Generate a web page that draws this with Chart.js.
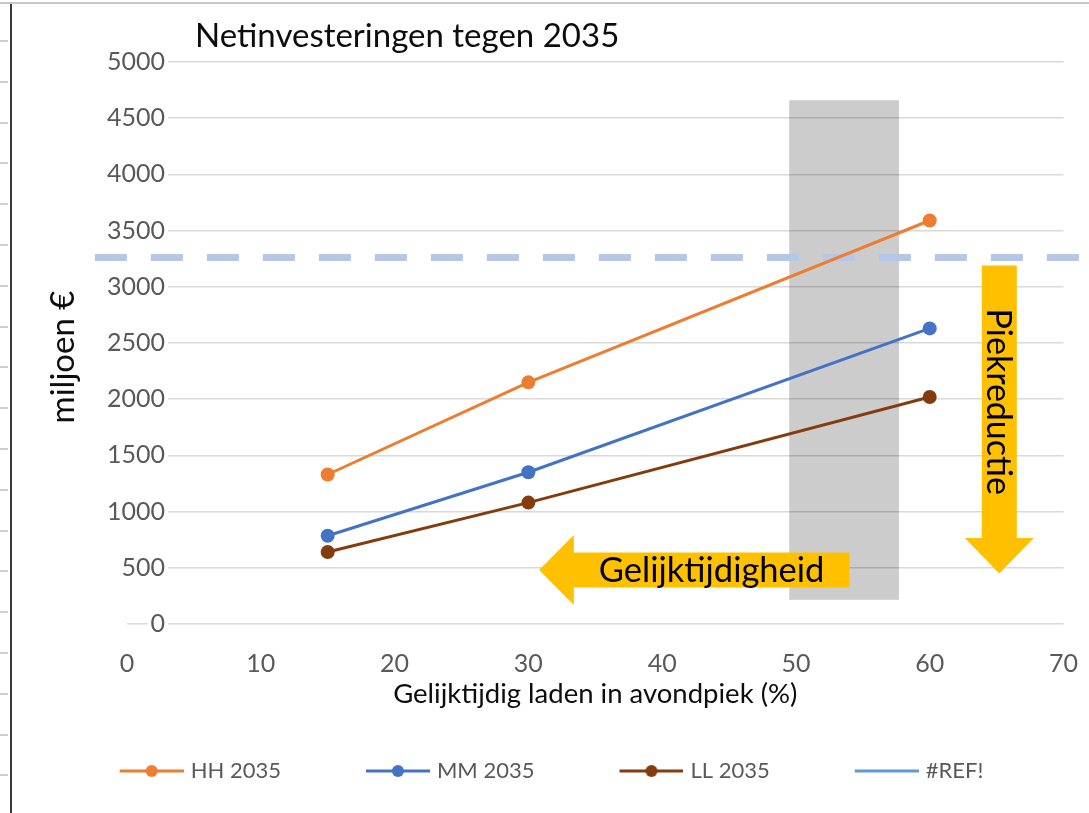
<!DOCTYPE html>
<html>
<head>
<meta charset="utf-8">
<title>Netinvesteringen tegen 2035</title>
<script src="https://cdn.jsdelivr.net/npm/chart.js@4.4.0/dist/chart.umd.min.js"></script>
<style>
    html, body { margin: 0; padding: 0; background: #fff; }
    #wrap { position: relative; width: 1089px; height: 813px; }
</style>
</head>
<body>
<div id="wrap"><canvas id="netChart" width="1089" height="813"></canvas></div>
<script>
// data
var xValues = [15, 30, 60];
var hhValues = [1330, 2150, 3590];
var mmValues = [785, 1350, 2630];
var llValues = [640, 1080, 2020];
var seriesNames = ['HH 2035', 'MM 2035', 'LL 2035', '#REF!'];
var seriesColors = ['#ED7D31', '#4472C4', '#843C0C', '#5B9BD5'];
var xTicks = [0, 10, 20, 30, 40, 50, 60, 70];
var yTicks = [0, 500, 1000, 1500, 2000, 2500, 3000, 3500, 4000, 4500, 5000];

var chartTitle = 'Netinvesteringen tegen 2035';
var xTitle = 'Gelijktijdig laden in avondpiek (%)';
var yTitle = 'miljoen €';

// overlay shapes in data units
var refLevel = 3260;              // dashed line
var refFrom = -2.4, refTo = 71.2;
var band = { x0: 49.5, x1: 57.7, y0: 215, y1: 4660 };
var leftArrow = { tip: 30.8, headBase: 33.4, end: 54.0, y: 480, text: 'Gelijktijdigheid' };
var downArrow = { x: 65.2, top: 3190, headBase: 765, tip: 450, text: 'Piekreductie' };

var FONT = 'Lato';

function measure(txt, size) {
    var c = document.createElement('canvas').getContext('2d');
    c.font = size + 'px ' + FONT;
    return c.measureText(txt).width;
}

var tickSize = 25;
var widestY = measure('5000', tickSize);

// legend symbol: line with optional marker, drawn with a left margin
// so the text sits close to the line end like in Excel
var legendBox = 68;
function legendIcon(color, marker) {
    var c = document.createElement('canvas');
    c.width = legendBox + 8;
    c.height = 16;
    var g = c.getContext('2d');
    var x0 = legendBox - 56;
    g.strokeStyle = color;
    g.lineWidth = 3;
    g.beginPath();
    g.moveTo(x0, 8);
    g.lineTo(x0 + 64, 8);
    g.stroke();
    if (marker) {
        g.fillStyle = color;
        g.beginPath();
        g.arc(x0 + 32, 8, 6, 0, Math.PI * 2);
        g.fill();
    }
    return c;
}

var legendIcons = [
    legendIcon(seriesColors[0], true),
    legendIcon(seriesColors[1], true),
    legendIcon(seriesColors[2], true),
    legendIcon(seriesColors[3], false)
];

function series(values) {
    return values.map(function(v, i) { return { x: xValues[i], y: v }; });
}

function makeDataset(i, values) {
    return {
        label: seriesNames[i],
        data: values ? series(values) : [],
        borderColor: seriesColors[i],
        backgroundColor: seriesColors[i],
        borderWidth: 3,
        pointRadius: values ? 7 : 0,
        pointBorderWidth: 0,
        pointHoverRadius: 7,
        tension: 0,
        fill: false
    };
}

var overlays = {
    id: 'overlays',
    beforeDraw: function(chart) {
        var ctx = chart.ctx;
        ctx.save();
        // spreadsheet frame behind the chart
        ctx.strokeStyle = '#c8c8c8';
        ctx.lineWidth = 2;
        ctx.beginPath();
        ctx.moveTo(0, 3);
        ctx.lineTo(chart.width, 3);
        ctx.stroke();
        ctx.strokeStyle = '#bfbfbf';
        ctx.lineWidth = 1.5;
        for (var y = 41; y < chart.height; y += 40.8) {
            ctx.beginPath();
            ctx.moveTo(0, Math.round(y));
            ctx.lineTo(8, Math.round(y));
            ctx.stroke();
        }
        ctx.strokeStyle = '#3a3a3a';
        ctx.lineWidth = 2;
        ctx.beginPath();
        ctx.moveTo(11, 4);
        ctx.lineTo(11, chart.height);
        ctx.stroke();
        ctx.restore();
    },
    beforeDatasetsDraw: function(chart) {
        var ctx = chart.ctx, xs = chart.scales.x, ys = chart.scales.y;
        ctx.save();
        ctx.fillStyle = 'rgba(0,0,0,0.2)';
        var bx = xs.getPixelForValue(band.x0), by = ys.getPixelForValue(band.y1);
        ctx.fillRect(bx, by, xs.getPixelForValue(band.x1) - bx, ys.getPixelForValue(band.y0) - by);

        ctx.strokeStyle = '#B4C7E7';
        ctx.lineWidth = 7;
        ctx.setLineDash([32, 24]);
        var ry = ys.getPixelForValue(refLevel);
        ctx.beginPath();
        ctx.moveTo(xs.getPixelForValue(refFrom), ry);
        ctx.lineTo(xs.getPixelForValue(refTo), ry);
        ctx.stroke();
        ctx.restore();
    },
    afterDatasetsDraw: function(chart) {
        var ctx = chart.ctx, xs = chart.scales.x, ys = chart.scales.y;
        ctx.save();
        ctx.fillStyle = '#FFC000';

        // left arrow
        var tx = xs.getPixelForValue(leftArrow.tip);
        var hb = xs.getPixelForValue(leftArrow.headBase);
        var ex = xs.getPixelForValue(leftArrow.end);
        var cy = ys.getPixelForValue(leftArrow.y);
        ctx.beginPath();
        ctx.moveTo(tx, cy);
        ctx.lineTo(hb, cy - 35);
        ctx.lineTo(hb, cy - 17.5);
        ctx.lineTo(ex, cy - 17.5);
        ctx.lineTo(ex, cy + 17.5);
        ctx.lineTo(hb, cy + 17.5);
        ctx.lineTo(hb, cy + 35);
        ctx.closePath();
        ctx.fill();

        // down arrow
        var cx = xs.getPixelForValue(downArrow.x);
        var top = ys.getPixelForValue(downArrow.top);
        var db = ys.getPixelForValue(downArrow.headBase);
        var dt = ys.getPixelForValue(downArrow.tip);
        ctx.beginPath();
        ctx.moveTo(cx - 17.5, top);
        ctx.lineTo(cx + 17.5, top);
        ctx.lineTo(cx + 17.5, db);
        ctx.lineTo(cx + 34.5, db);
        ctx.lineTo(cx, dt);
        ctx.lineTo(cx - 34.5, db);
        ctx.lineTo(cx - 17.5, db);
        ctx.closePath();
        ctx.fill();

        ctx.fillStyle = '#000';
        ctx.textAlign = 'center';
        ctx.textBaseline = 'middle';
        ctx.font = '34.5px ' + FONT;
        ctx.fillText(leftArrow.text, (hb + ex) / 2, cy + 1);

        ctx.translate(cx, (top + db) / 2);
        ctx.rotate(Math.PI / 2);
        ctx.font = '34px ' + FONT;
        ctx.fillText(downArrow.text, 0, 1);
        ctx.restore();
    },
    afterDraw: function(chart) {
        var ctx = chart.ctx;
        ctx.save();
        ctx.fillStyle = '#0d0d0d';
        ctx.font = '33px ' + FONT;
        ctx.textAlign = 'left';
        ctx.textBaseline = 'alphabetic';
        ctx.fillText(chartTitle, 195, 47);

        // y-axis title, centred a little below the plot middle as in the original
        ctx.translate(63, 357);
        ctx.rotate(-Math.PI / 2);
        ctx.textAlign = 'center';
        ctx.textBaseline = 'middle';
        ctx.font = '33px ' + FONT;
        ctx.fillText(yTitle, 0, 0);
        ctx.restore();
    }
};

var ctx = document.getElementById('netChart').getContext('2d');

var netChart = new Chart(ctx, {
    type: 'line',
    data: {
        datasets: [
            makeDataset(0, hhValues),
            makeDataset(1, mmValues),
            makeDataset(2, llValues),
            makeDataset(3, null)
        ]
    },
    options: {
        responsive: false,
        animation: false,
        layout: {
            padding: { left: 16, right: 10, top: 62, bottom: 21 }
        },
        scales: {
            x: {
                type: 'linear',
                min: 0,
                max: 70,
                afterBuildTicks: function(scale) {
                    scale.ticks = xTicks.map(function(v) { return { value: v }; });
                },
                afterFit: function(scale) {
                    scale.height = 59;
                },
                grid: { display: false, drawTicks: true, tickLength: 14 },
                border: { display: false },
                ticks: {
                    color: '#595959',
                    font: { family: FONT, size: tickSize },
                    padding: 11,
                    maxRotation: 0,
                    callback: function(v) { return String(v); }
                },
                title: {
                    display: true,
                    text: xTitle,
                    color: '#0d0d0d',
                    font: { family: FONT, size: 27.5 },
                    padding: { top: 0, bottom: -27.5 }
                }
            },
            y: {
                type: 'linear',
                min: 0,
                max: 5000,
                afterBuildTicks: function(scale) {
                    scale.ticks = yTicks.map(function(v) { return { value: v }; });
                },
                afterFit: function(scale) {
                    scale.width = 111;
                },
                grid: { color: '#d9d9d9', lineWidth: 1.5, drawTicks: false },
                border: { display: false },
                ticks: {
                    mirror: true,
                    crossAlign: 'far',
                    padding: 38 - widestY,
                    color: '#595959',
                    font: { family: FONT, size: tickSize },
                    showLabelBackdrop: true,
                    backdropColor: '#ffffff',
                    backdropPadding: { x: 3, y: 1 },
                    callback: function(v) { return String(v); }
                },
                title: { display: false }
            }
        },
        plugins: {
            legend: {
                position: 'bottom',
                labels: {
                    usePointStyle: true,
                    pointStyleWidth: legendBox,
                    padding: 77,
                    color: '#595959',
                    font: { family: FONT, size: 22 },
                    generateLabels: function(chart) {
                        var items = Chart.defaults.plugins.legend.labels.generateLabels(chart);
                        items.forEach(function(item, i) {
                            item.pointStyle = legendIcons[i];
                        });
                        return items;
                    }
                }
            },
            tooltip: { enabled: false },
            title: { display: false }
        }
    },
    plugins: [overlays]
});
</script>
</body>
</html>
